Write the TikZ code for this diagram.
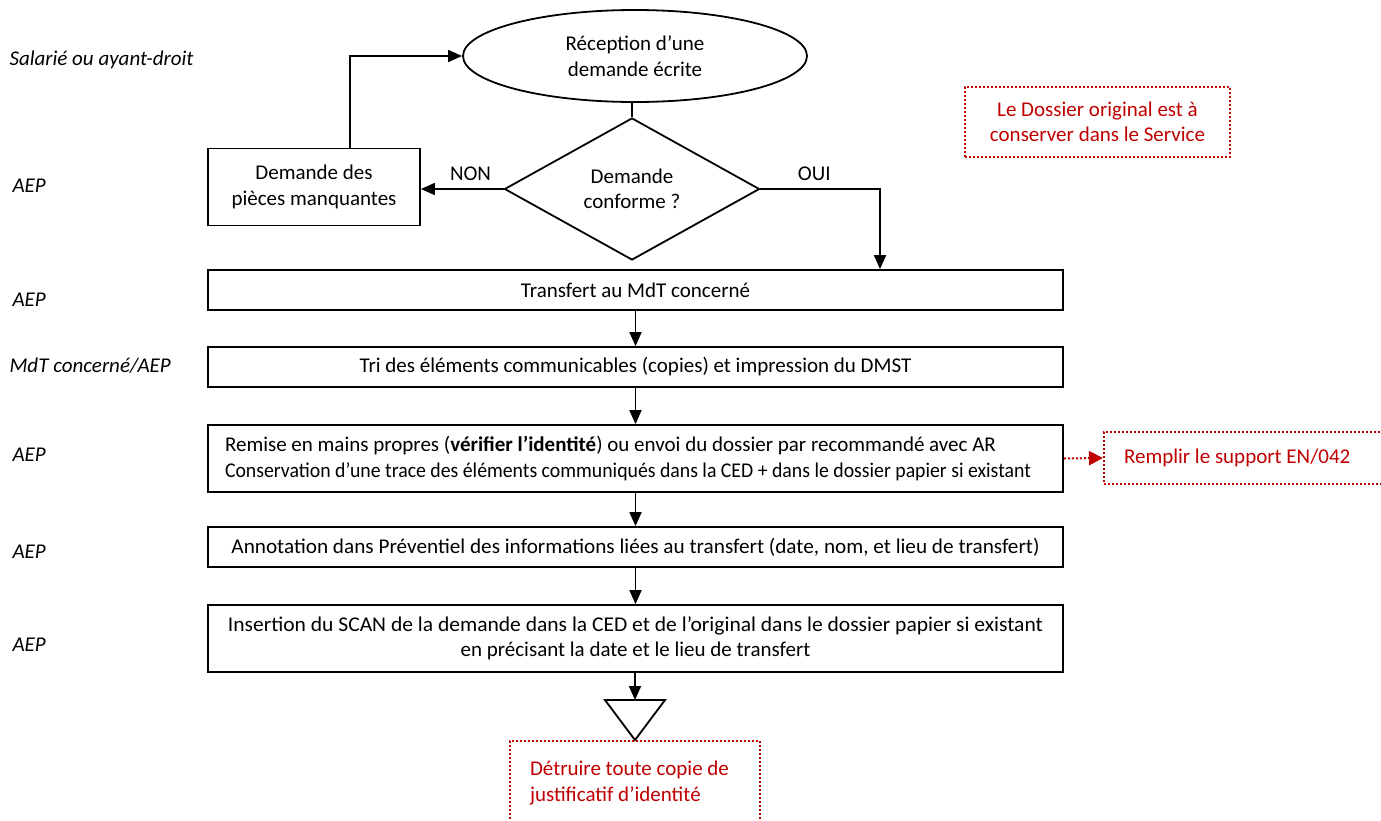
\documentclass[tikz,border=0pt]{standalone}
\usepackage{fontspec}
\setmainfont{Carlito}
\usetikzlibrary{shapes.geometric,arrows.meta}
\definecolor{redc}{RGB}{192,0,0}
\begin{document}
\begin{tikzpicture}[x=1pt,y=-1pt,
  every node/.style={font=\fontsize{21}{25.5}\selectfont},
  line/.style={line width=1.8pt},
  arr/.style={line width=1.8pt,-{Triangle[length=14pt,width=12pt]}},
  stepbox/.style={draw,line width=1.8pt,minimum width=855pt,minimum height=40pt,inner sep=0pt},
  redbox/.style={draw=redc,text=redc,line width=2pt,dash pattern=on 2pt off 2pt},
  redarr/.style={draw=redc,line width=2pt,dash pattern=on 2pt off 2pt,-{Triangle[length=14pt,width=14pt,fill=redc]}},
  lab/.style={font=\fontsize{21}{25.5}\selectfont\itshape,anchor=west},
  decision/.style={draw,diamond,line width=1.8pt,minimum width=255pt,minimum height=142pt,inner sep=0pt,align=center}]
\clip (0,0) rectangle (1381,820);
% lane labels
\node[lab] (l0) at (6,60) {Salarié ou ayant-droit};
\node[lab] (l1) at (9,186) {AEP};
\node[lab] (l2) at (9,300) {AEP};
\node[lab] (l3) at (6,366) {MdT concerné/AEP};
\node[lab] (l4) at (9,455) {AEP};
\node[lab] (l5) at (9,552) {AEP};
\node[lab] (l6) at (9,645) {AEP};
% shapes
\node[draw,ellipse,line width=1.8pt,minimum width=344pt,minimum height=92pt,inner sep=0pt,align=center] (rec) at (635,56) {Réception d’une\\demande écrite};
\node[decision] (dec) at (632,189) {Demande\\conforme ?};
\node[draw,line width=1.8pt,minimum width=212pt,minimum height=77pt,align=center] (miss) at (314,187) {Demande des\\pièces manquantes};
\node[stepbox] (s1) at (635.5,290) {Transfert au MdT concerné};
\node[stepbox] (s2) at (635.5,367) {Tri des éléments communicables (copies) et impression du DMST};
\node[stepbox,minimum height=67pt,text width=821pt,inner xsep=17pt,align=flush left] (s3) at (635.5,458.5) {Remise en mains propres (\textbf{vérifier l’identité}) ou envoi du dossier par recommandé avec AR\\\resizebox{806pt}{\height}{Conservation d’une trace des éléments communiqués dans la CED + dans le dossier papier si existant}};
\node[stepbox] (s4) at (635.5,547) {\resizebox{808pt}{\height}{Annotation dans Préventiel des informations liées au transfert (date, nom, et lieu de transfert)}};
\node[stepbox,minimum height=67pt,align=center] (s5) at (635.5,638.5) {\resizebox{815pt}{\height}{Insertion du SCAN de la demande dans la CED et de l’original dans le dossier papier si existant}\\en précisant la date et le lieu de transfert};
\coordinate (tri) at (635,700);
\draw[line width=1.8pt] (605,700) -- (665,700) -- (635,740) -- cycle;
% red notes
\node[redbox,minimum width=265pt,minimum height=70pt,align=center] (note1) at (1097.5,122) {Le Dossier original est à\\conserver dans le Service};
\node[redbox,anchor=west,minimum width=300pt,minimum height=52pt,text width=270pt,inner xsep=20pt,align=flush left] (note2) at (1103,458) {Remplir le support EN/042};
\node[redbox,anchor=north,minimum height=84pt,text width=210pt,inner xsep=20pt,align=flush left] (note3) at (635,740) {Détruire toute copie de\\justificatif d’identité};
% connectors
\coordinate (up) at (350,62);
\draw[arr] (miss.north -| up) -- (up |- rec.west) -- (rec.west);
\draw[line] (rec.south -| dec.north) -- (dec.north);
\draw[arr] (dec.west) -- node[above,pos=0.4,yshift=4pt] (non) {NON} (dec.west -| miss.east);
\coordinate (oui) at (880,189);
\draw[arr] (dec.east) -- node[above,pos=0.45,yshift=4pt] (ouil) {OUI} (dec.east -| oui) -- (oui |- s1.north);
\draw[arr] (s1) -- (s2);
\draw[arr] (s2) -- (s3);
\draw[arr] (s3) -- (s4);
\draw[arr] (s4) -- (s5);
\draw[arr] (s5.south -| tri) -- (tri);
\draw[redarr] (s3.east) -- (note2.west);
\end{tikzpicture}
\end{document}
